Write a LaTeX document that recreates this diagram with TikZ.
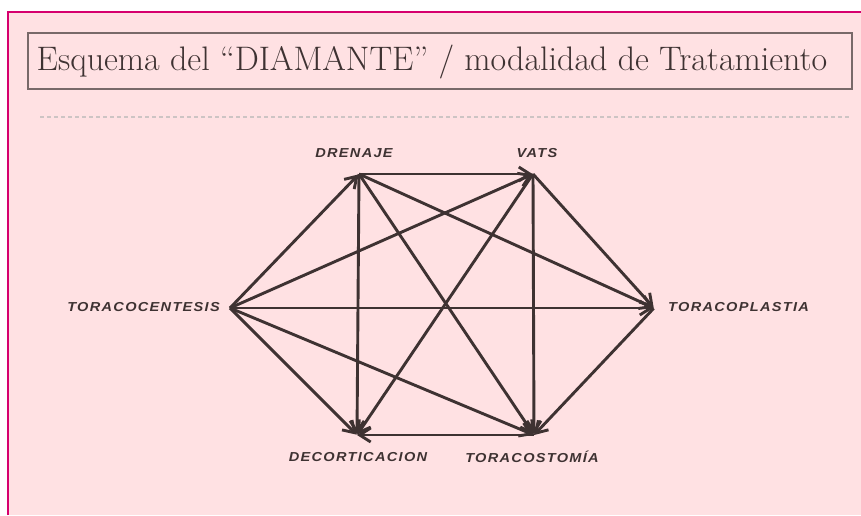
\documentclass[tikz,border=0pt]{standalone}
\usepackage{fontspec}
\usetikzlibrary{arrows.meta}
\newfontfamily\labelfont[LetterSpace=10,FakeStretch=1.12]{Liberation Sans}
\definecolor{slidepink}{RGB}{255,225,227}
\definecolor{slideframe}{RGB}{214,0,110}
\definecolor{boxgray}{RGB}{120,105,105}
\definecolor{inkgray}{RGB}{62,50,50}
\definecolor{rulegray}{RGB}{205,196,196}

\begin{document}
\begin{tikzpicture}[x=1pt, y=-1pt,
    lbl/.style={font=\labelfont\bfseries\itshape\fontsize{13}{13}\selectfont, text=inkgray, inner sep=0pt},
    link/.style={-{Straight Barb[length=11pt,width=14pt]}, line width=2.9pt, draw=inkgray, shorten >=0.5pt}]
        % Background
        \useasboundingbox (0,0) rectangle (861,515);
        \fill[white] (0,0) rectangle (861,515);
        \fill[slidepink] (8,12) rectangle (861,515);
        \draw[slideframe, line width=1.8pt] (8,515) -- (8,12) -- (861,12);
        \draw[boxgray, line width=2.2pt, fill=slidepink] (28,33) rectangle (852,89);
        \node[text=inkgray, font=\fontsize{34}{34}\selectfont, inner sep=0pt] (title) at (432,62)
            {Esquema del “DIAMANTE” / modalidad de Tratamiento};
        \draw[rulegray, line width=1.2pt, dash pattern=on 4pt off 3pt] (40,117) -- (850,117);

        % Nodes
        \coordinate (T) at (230,308);
        \coordinate (D) at (359,174);
        \coordinate (V) at (533,174);
        \coordinate (P) at (654,308);
        \coordinate (C) at (357,435);
        \coordinate (S) at (534,435);
        \node[lbl, anchor=east] (Tl) at (220,307) {TORACOCENTESIS};
        \node[lbl] (Dl) at (354,153) {DRENAJE};
        \node[lbl] (Vl) at (537,153) {VATS};
        \node[lbl, anchor=west] (Pl) at (668,307) {TORACOPLASTIA};
        \node[lbl] (Cl) at (358,457) {DECORTICACION};
        \node[lbl] (Sl) at (532,457) {TORACOSTOMÍA};

        % Edges
        \draw[link] (T) -- (D);
        \draw[link] (T) -- (V);
        \draw[link] (T) -- (P);
        \draw[link] (T) -- (C);
        \draw[link] (T) -- (S);
        \draw[link] (D) -- (V);
        \draw[link] (D) -- (P);
        \draw[link] (D) -- (C);
        \draw[link] (D) -- (S);
        \draw[link] (V) -- (P);
        \draw[link] (V) -- (C);
        \draw[link] (V) -- (S);
        \draw[link, {Straight Barb[length=11pt,width=14pt]}-] (C) -- (S);
        \draw[link, {Straight Barb[length=11pt,width=14pt]}-] (S) -- (P);
    \end{tikzpicture}
\end{document}
